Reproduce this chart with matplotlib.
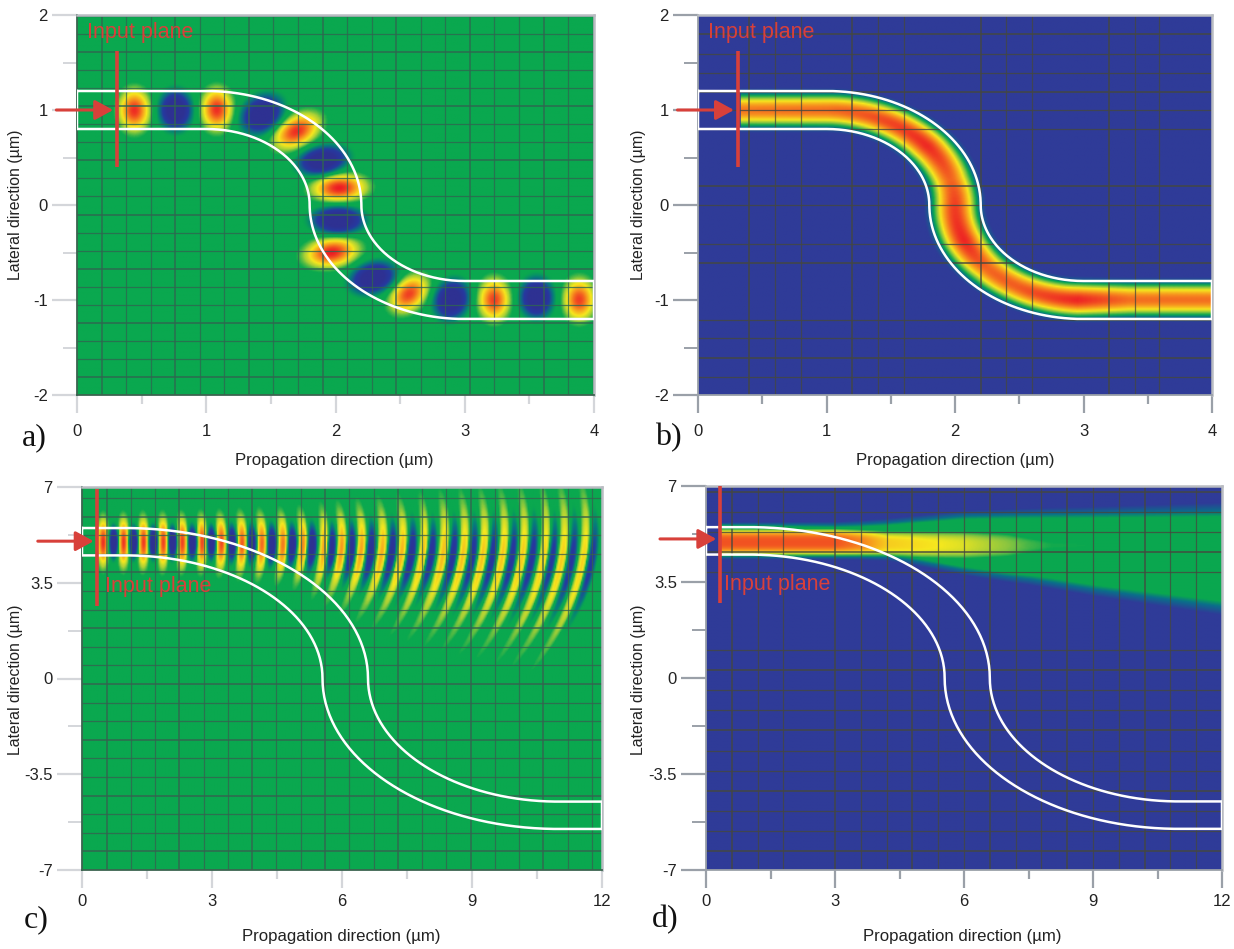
import numpy as np
import matplotlib
matplotlib.use("Agg")
import matplotlib.pyplot as plt
from matplotlib.colors import LinearSegmentedColormap

plt.rcParams['font.family'] = ['Liberation Sans', 'DejaVu Sans']

W, H = 1234, 949

# waveguide edges: anchors of the two bends
guide_small_top = [(0, 1.2), (1.0, 1.2), (2.2, 0), (3.0, -0.8), (4, -0.8)]
guide_small_bot = [(0, 0.8), (1.0, 0.8), (1.8, 0), (3.0, -1.2), (4, -1.2)]
guide_small_mid = [(0, 1.0), (1.0, 1.0), (2.0, 0), (3.0, -1.0), (4, -1.0)]
guide_big_top = [(0, 5.5), (1.0, 5.5), (6.6, 0), (11.0, -4.5), (12, -4.5)]
guide_big_bot = [(0, 4.5), (1.0, 4.5), (5.55, 0), (11.0, -5.5), (12, -5.5)]

# a) field lobes along the guide
lobe_x = [0.44, 0.76, 1.08, 1.43, 1.70, 1.90, 2.03, 2.02, 1.97, 2.29, 2.57, 2.90, 3.23, 3.56, 3.89]
lobe_y = [1.00, 1.00, 1.01, 0.96, 0.78, 0.47, 0.18, -0.16, -0.50, -0.77, -0.94, -1.00, -1.00, -0.98, -1.00]
lobe_amp = [0.95, -1.5, 0.95, -1.5, 0.95, -1.5, 1.0, -1.5, 1.0, -1.5, 0.9, -1.5, 0.9, -1.5, 0.9]
lobe_ang = [0, 0, 0, -22, -40, -68, -85, -90, -72, -50, -25, -8, 0, 0, 0]
lobe_long = [0.105, 0.10, 0.105, 0.12, 0.125, 0.115, 0.125, 0.115, 0.13, 0.12, 0.115, 0.105, 0.105, 0.10, 0.105]
lobe_wide = [0.19, 0.165, 0.19, 0.165, 0.19, 0.155, 0.18, 0.16, 0.18, 0.15, 0.18, 0.165, 0.19, 0.165, 0.19]

# b) peak intensity along the guide (arc length)
beam_s = [0.33, 1.0, 1.45, 1.9, 2.3, 2.55, 2.95, 3.3, 3.6, 4.1, 4.5, 5.14]
beam_amp = [0.80, 0.82, 0.90, 0.97, 0.84, 0.92, 0.98, 0.84, 0.86, 0.98, 0.82, 0.82]

# c) crescent positions
cres_pos_x = [0.48, 0.95, 1.41, 1.87, 2.31, 2.77, 3.21, 3.69, 4.15, 4.64, 5.10, 5.61, 6.00,
              6.46, 6.95, 7.41, 7.92, 8.38, 8.84, 9.30, 9.76, 10.22, 10.73, 11.15, 11.65]
cres_neg_x = [0.72, 1.18, 1.64, 2.08, 2.54, 2.98, 3.46, 3.92, 4.38, 4.85, 5.31, 5.77, 6.23,
              6.69, 7.18, 7.64, 8.10, 8.61, 9.07, 9.53, 9.99, 10.45, 10.92, 11.38, 11.84]
cres_at = [0, 3, 5, 7, 9, 12]
cres_centre = [5.0, 5.0, 4.9, 4.65, 4.5, 4.3]
cres_apex = [5.0, 5.0, 5.1, 5.3, 5.5, 5.6]
cres_up = [0.75, 0.8, 1.0, 1.5, 1.9, 2.4]
cres_down = [0.75, 0.85, 1.1, 1.9, 2.5, 3.1]
cres_bend = [0.0, 0.03, 0.06, 0.06, 0.05, 0.045]
cres_pos_amp = [0.95, 0.9, 0.72, 0.58, 0.52, 0.48]
cres_neg_amp = [-1.5, -1.4, -1.25, -1.0, -0.8, -0.7]

# d) free beam: anchors along the propagation direction
free_at = [0.33, 3.0, 3.6, 4.2, 5.0, 6.0, 7.0, 7.5, 8.0, 9.0, 12.0]
free_peak = [0.88, 0.88, 0.78, 0.62, 0.58, 0.53, 0.44, 0.38, 0.34, 0.33, 0.33]
free_width = [0.50, 0.50, 0.50, 0.52, 0.58, 0.62, 0.60, 0.48, 0.32, 0.2, 0.2]
free_centre = [4.97, 4.97, 4.95, 4.92, 4.88, 4.86, 4.85, 4.85, 4.85, 4.85, 4.85]
free_top = [5.66, 5.66, 5.70, 5.76, 5.88, 6.03, 6.08, 6.10, 6.12, 6.15, 6.27]
free_bot = [4.48, 4.46, 4.44, 4.36, 4.15, 3.84, 3.60, 3.50, 3.38, 3.11, 2.44]

# grid lines
grid_a_x = np.arange(0.19, 4, 0.19)
grid_a_y = np.arange(-1.81, 2, 0.19)
grid_b_x = [0.40, 0.60, 0.80, 1.20, 1.40, 1.60, 2.20, 2.40, 2.60, 3.20, 3.40, 3.59]
grid_b_y = [1.8, 1.59, 1.39, 1.19, 1.0, 0.8, 0.2, 0.0, -0.41, -0.61, -1.21, -1.4, -1.61, -1.81]
grid_c_x = np.arange(0.567, 12, 0.56)
grid_c_y = np.arange(-6.32, 7, 0.68)
grid_d_x = [0.6, 1.2, 1.8, 3.0, 3.6, 4.2, 4.8, 5.4, 6.0, 6.6, 7.2, 7.8, 8.4, 9.0, 9.6, 10.2, 10.8, 11.4]
grid_d_y = [6.78, 6.05, 5.32, 4.59, 3.86, 1.02, 0.29, -0.44, -1.17, -1.9, -2.65, -3.38, -4.12, -4.86, -5.56, -6.3]

field_cmap = LinearSegmentedColormap.from_list("field", [
    (0.0, "#2e3192"), (0.22, "#2639a0"), (0.37, "#067d7a"), (0.46, "#0aa84f"), (0.54, "#0aa84f"),
    (0.62, "#a8d037"), (0.70, "#f6e81e"), (0.83, "#f7941e"), (1.0, "#ed1c24")])
power_cmap = LinearSegmentedColormap.from_list("power", [
    (0.0, "#2f3b98"), (0.10, "#2f3b98"), (0.24, "#0a6f8a"), (0.33, "#0aa84f"), (0.44, "#8cc63f"),
    (0.56, "#f6e81e"), (0.74, "#f7941e"), (1.0, "#ed1c24")])

RED = "#d8403a"


def edge_xy(p):
    # p: start, end of straight, mid, end of second bend, end
    k = 0.5523
    t = np.linspace(0, 1, 80)[:, None]
    p = [np.array(q, float) for q in p]

    def bez(a, b, c, d):
        return (1 - t)**3 * a + 3 * (1 - t)**2 * t * b + 3 * (1 - t) * t**2 * c + t**3 * d

    d1 = p[2] - p[1]
    d2 = p[3] - p[2]
    s1 = (1 - t) * p[0] + t * p[1]
    b1 = bez(p[1], p[1] + [k * d1[0], 0], p[2] - [0, k * d1[1]], p[2])
    b2 = bez(p[2], p[2] + [0, k * d2[1]], p[3] - [k * d2[0], 0], p[3])
    s2 = (1 - t) * p[3] + t * p[4]
    return np.vstack([s1, b1, b2, s2])


def make_axes(left, right, top, bottom):
    return plt.figure(1).add_axes([left / W, 1 - bottom / H, (right - left) / W, (bottom - top) / H])


def field_a(x, y):
    v = np.zeros_like(x)
    for cx, cy, a, ang, su, sw in zip(lobe_x, lobe_y, lobe_amp, lobe_ang, lobe_long, lobe_wide):
        th = np.radians(ang)
        u = (x - cx) * np.cos(th) + (y - cy) * np.sin(th)
        w = -(x - cx) * np.sin(th) + (y - cy) * np.cos(th)
        v += a * np.exp(-(u / su)**2 - (w / sw)**2)
    return v


def field_b(x, y):
    mid = edge_xy(guide_small_mid)
    seg = np.hypot(*np.diff(mid, axis=0).T)
    s = np.r_[0, np.cumsum(seg)]
    d2 = (x[..., None] - mid[:, 0])**2 + (y[..., None] - mid[:, 1])**2
    near = d2.argmin(axis=-1)
    d = np.sqrt(d2.min(axis=-1))
    v = np.interp(s[near], beam_s, beam_amp) * np.exp(-(d / 0.165)**2)
    v[x < 0.33] = 0
    return v


def field_c(x, y):
    v = np.zeros_like(x)
    for group, amps, sx, tail in ((cres_pos_x, cres_pos_amp, 0.125, 1.0), (cres_neg_x, cres_neg_amp, 0.10, 0.62)):
        for cx in group:
            yc = np.interp(cx, cres_at, cres_centre)
            apex = np.interp(cx, cres_at, cres_apex)
            up = np.interp(cx, cres_at, cres_up) * tail
            down = np.interp(cx, cres_at, cres_down) * tail
            bend = np.interp(cx, cres_at, cres_bend)
            amp = np.interp(cx, cres_at, amps)
            reach = np.where(y > yc, up, down)
            xc = cx - bend * (y - apex)**2
            v += amp * np.exp(-((x - xc) / sx)**2 - ((y - yc) / reach)**2)
    v[x < 0.33] = 0
    return v


def field_d(x, y):
    top = np.interp(x, free_at, free_top)
    bot = np.interp(x, free_at, free_bot)
    # soft edges get wider towards the far end
    soft = 0.15 + 0.05 * x
    plateau = 0.33 * np.clip((top - y) / soft + 0.5, 0, 1) * np.clip((y - bot) / soft + 0.5, 0, 1)
    peak = np.interp(x, free_at, free_peak)
    wid = np.interp(x, free_at, free_width)
    cen = np.interp(x, free_at, free_centre)
    core = peak * np.exp(-(np.abs(y - cen) / wid)**3)
    v = np.maximum(plateau, core)
    v = np.where(x < 0.33, 0, v)
    return v


def panel(box, xlim, ylim, func, cmap, vmin, vmax, gx, gy, gcolor, top, bot, side, tick_c,
          xmajor, xminor, ymajor, yminor, ylabels, plane, arrow, label_xy, letter, letter_xy, xlabel_px, xpad):
    ax = make_axes(*box)
    xs = np.linspace(xlim[0], xlim[1], 420)
    ys = np.linspace(ylim[0], ylim[1], 320)
    X, Y = np.meshgrid(xs, ys)
    ax.imshow(func(X, Y), origin="lower", extent=[*xlim, *ylim], aspect="auto", cmap=cmap,
              vmin=vmin, vmax=vmax, interpolation="bilinear")

    lw_cycle = [1.3, 0.9, 0.9]
    for i, g in enumerate(gx):
        ax.axvline(g, color=gcolor, lw=lw_cycle[i % 3], alpha=0.75)
    for i, g in enumerate(gy):
        ax.axhline(g, color=gcolor, lw=lw_cycle[i % 3], alpha=0.8)

    t = edge_xy(top)
    b = edge_xy(bot)
    outline = np.vstack([t, b[::-1], t[:1]])
    ax.plot(outline[:, 0], outline[:, 1], color="white", lw=1.8, solid_joinstyle="miter", zorder=4)

    ax.plot([plane[0], plane[0]], [plane[1], plane[2]], color=RED, lw=2.6, zorder=5, solid_capstyle="butt")
    ax.annotate("", xy=(arrow[1], arrow[2]), xytext=(arrow[0], arrow[2]), annotation_clip=False, zorder=6,
                arrowprops=dict(arrowstyle="-|>,head_length=0.55,head_width=0.3", color=RED, lw=2.2,
                                shrinkA=0, shrinkB=0, mutation_scale=20))
    ax.text(label_xy[0], label_xy[1], "Input plane", color=RED, fontsize=15.5, va="center", ha="left", zorder=6)

    ax.set_xlim(xlim)
    ax.set_ylim(ylim)
    ax.set_xticks(xmajor)
    ax.set_xticks(xminor, minor=True)
    ax.set_yticks(ymajor)
    ax.set_yticks(yminor, minor=True)
    ax.set_yticklabels(ylabels)
    ax.tick_params(axis="x", which="major", length=13, width=1.6, color=tick_c, labelsize=12, pad=xpad, labelcolor="#222222")
    ax.tick_params(axis="x", which="minor", length=6.5, width=1.6, color=tick_c)
    ax.tick_params(axis="y", which="major", length=18, width=1.6, color=tick_c, labelsize=12, pad=3, labelcolor="#222222")
    ax.tick_params(axis="y", which="minor", length=10, width=1.4, color=tick_c)

    for name in ("top", "right"):
        ax.spines[name].set_color("#b9bcc2")
        ax.spines[name].set_linewidth(1.8)
    for name in ("left", "bottom"):
        ax.spines[name].set_color(side)
        ax.spines[name].set_linewidth(1.3)

    fig.text(xlabel_px[0] / W, 1 - xlabel_px[1] / H, "Propagation direction (µm)", fontsize=12.1,
             ha="center", va="center", color="#222222")
    fig.text(xlabel_px[2] / W, 1 - xlabel_px[3] / H, "Lateral direction (µm)", fontsize=11.4, rotation=90,
             ha="center", va="center", color="#222222")
    fig.text(letter_xy[0] / W, 1 - letter_xy[1] / H, letter, fontsize=23, family="Liberation Serif",
             ha="left", va="center", color="#111111")
    return ax


fig = plt.figure(1, figsize=(W / 100, H / 100), dpi=100)

small_x = ([0, 1, 2, 3, 4], [0.5, 1.5, 2.5, 3.5])
small_y = ([-2, -1, 0, 1, 2], [-1.5, -0.5, 0.5, 1.5], ["-2", "-1", "0", "1", "2"])
big_x = ([0, 3, 6, 9, 12], [1.5, 4.5, 7.5, 10.5])
big_y = ([-7, -3.5, 0, 3.5, 7], [-5.25, -1.75, 1.75, 5.25], ["-7", "-3.5", "0", "3.5", "7"])

panel((77, 594, 15, 395), (0, 4), (-2, 2), field_a, field_cmap, -1, 1, grid_a_x, grid_a_y, "#2f6650",
      guide_small_top, guide_small_bot, "#3c6450", "#d4d6da", *small_x, *small_y,
      (0.31, 0.4, 1.62), (-0.16, 0.28, 1.0), (0.08, 1.82), "a)", (22, 438), (334, 460, 16, 205), 8)
panel((698, 1212, 15, 395), (0, 4), (-2, 2), field_b, power_cmap, 0, 1, grid_b_x, grid_b_y, "#45483f",
      guide_small_top, guide_small_bot, "#9aa0a8", "#9aa0a8", *small_x, *small_y,
      (0.31, 0.4, 1.62), (-0.16, 0.28, 1.0), (0.08, 1.82), "b)", (655, 438), (955, 460, 638, 205), 8)
panel((82, 602, 487, 870), (0, 12), (-7, 7), field_c, field_cmap, -1, 1, grid_c_x, grid_c_y, "#35624f",
      guide_big_top, guide_big_bot, "#3c6450", "#d4d6da", *big_x, *big_y,
      (0.35, 2.64, 6.93), (-1.02, 0.27, 5.02), (0.53, 3.35), "c)", (24, 920), (341, 936, 16, 680), 4)
panel((706, 1222, 486, 870), (0, 12), (-7, 7), field_d, power_cmap, 0, 1, grid_d_x, grid_d_y, "#45483f",
      guide_big_top, guide_big_bot, "#9aa0a8", "#9aa0a8", *big_x, *big_y,
      (0.32, 2.75, 7.0), (-1.07, 0.24, 5.07), (0.42, 3.4), "d)", (652, 920), (962, 936, 639, 680), 4)

fig.savefig("out.png", dpi=100)
